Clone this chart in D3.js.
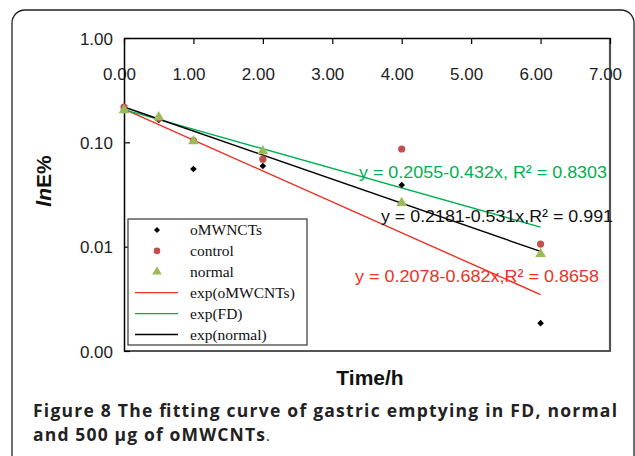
<!DOCTYPE html>
<html>
<head>
<meta charset="utf-8">
<script src="https://cdn.jsdelivr.net/npm/d3@7"></script>
<style>
  body { margin: 0; background: #fff; }
  svg { display: block; }
</style>
</head>
<body>
<div id="root"></div>
<script>
// data
const times = [0, 0.5, 1, 2, 4, 6]
const omwcnts = [0.205, 0.164, 0.0555, 0.0593, 0.039, 0.00185]
const control = [0.218, 0.17, 0.104, 0.069, 0.0863, 0.0106]
const normal = [0.208, 0.178, 0.105, 0.084, 0.0268, 0.0087]

// fitted lines, value at t=0 and at t=6
const fitTimes = [0, 6]
const fitRed = [0.2078, 0.00347]
const fitGreen = [0.2055, 0.0154]
const fitBlack = [0.2181, 0.0090]

const xTicks = [0, 1, 2, 3, 4, 5, 6, 7]
const yTicks = [1, 0.1, 0.01, 0.001]

const legendNames = ["oMWNCTs", "control", "normal", "exp(oMWCNTs)", "exp(FD)", "exp(normal)"]
const equations = [
    "y = 0.2055-0.432x, R² = 0.8303",
    "y = 0.2181-0.531x,R² = 0.991",
    "y = 0.2078-0.682x,R² = 0.8658"
]

const W = 635, H = 456
const plot = {left: 124, top: 38, right: 610, bottom: 351}
const colors = {red: "#ee3124", green: "#00b050", black: "#000",
                marker_red: "#c0504d", marker_green: "#9bbb59"}

const svg = d3.select("#root").append("svg")
    .attr("width", W)
    .attr("height", H)
    .style("font-family", "Liberation Sans, Arial, sans-serif")

// outer rounded frame of the figure
svg.append("rect")
    .attr("x", 12).attr("y", 10)
    .attr("width", 622).attr("height", 480)
    .attr("rx", 13)
    .attr("fill", "none")
    .attr("stroke", "#222")
    .attr("stroke-width", 1.3)

const x = d3.scaleLinear().domain([0, 7]).range([plot.left, plot.right])
const y = d3.scaleLog().domain([0.001, 1]).range([plot.bottom, plot.top])
const fmt = d3.format(".2f")

// plot frame: right and bottom drawn heavier and grey
svg.append("line").attr("x1", plot.right).attr("x2", plot.right)
    .attr("y1", plot.top).attr("y2", plot.bottom + 1)
    .attr("stroke", "#555").attr("stroke-width", 2.2)
svg.append("line").attr("x1", plot.left).attr("x2", plot.right + 1)
    .attr("y1", plot.bottom).attr("y2", plot.bottom)
    .attr("stroke", "#555").attr("stroke-width", 2.2)

// x axis along the top, ticks pointing inside, labels below
const xAxis = svg.append("g")
    .attr("transform", `translate(0,${plot.top})`)
    .call(d3.axisBottom(x).tickValues(xTicks).tickFormat(fmt).tickSize(6).tickSizeOuter(0))
xAxis.select(".domain").attr("stroke", "#000").attr("stroke-width", 1.5)
xAxis.selectAll(".tick line").attr("stroke", "#000").attr("stroke-width", 1.2)
xAxis.selectAll(".tick text")
    .attr("y", 0).attr("dy", 0)
    .attr("transform", "translate(-5,42)")
    .attr("font-size", 17)
    .attr("fill", "#222")
    .attr("font-family", "Liberation Sans, Arial, sans-serif")

// y axis on the left, ticks pointing inside
const yAxis = svg.append("g")
    .attr("transform", `translate(${plot.left},0)`)
    .call(d3.axisRight(y).tickValues(yTicks).tickFormat(fmt).tickSize(6).tickSizeOuter(0))
yAxis.select(".domain").attr("stroke", "#000").attr("stroke-width", 1.5)
yAxis.selectAll(".tick line").attr("stroke", "#000").attr("stroke-width", 1.2)
yAxis.selectAll(".tick text")
    .attr("x", -11).attr("dy", "0.36em")
    .attr("text-anchor", "end")
    .attr("font-size", 17)
    .attr("fill", "#222")
    .attr("font-family", "Liberation Sans, Arial, sans-serif")

// fit lines
const fitLine = d3.line().x(d => x(d[0])).y(d => y(d[1]))
const fits = [[fitRed, colors.red], [fitGreen, colors.green], [fitBlack, colors.black]]
fits.forEach(([vals, c]) => {
    svg.append("path")
        .datum(fitTimes.map((t, i) => [t, vals[i]]))
        .attr("d", fitLine)
        .attr("fill", "none")
        .attr("stroke", c)
        .attr("stroke-width", 1.4)
})

// markers
const diamond = d3.symbol().type(d3.symbolSquare).size(22)
const triangle = d3.symbol().type(d3.symbolTriangle).size(50)

svg.append("g").selectAll("path")
    .data(times.map((t, i) => [t, omwcnts[i]]))
    .join("path")
    .attr("transform", d => `translate(${x(d[0])},${y(d[1])}) rotate(45)`)
    .attr("d", diamond)
    .attr("fill", "#000")

svg.append("g").selectAll("circle")
    .data(times.map((t, i) => [t, control[i]]))
    .join("circle")
    .attr("cx", d => x(d[0]))
    .attr("cy", d => y(d[1]))
    .attr("r", 3.6)
    .attr("fill", colors.marker_red)

svg.append("g").selectAll("path")
    .data(times.map((t, i) => [t, normal[i]]))
    .join("path")
    .attr("transform", d => `translate(${x(d[0])},${y(d[1]) + 1})`)
    .attr("d", triangle)
    .attr("fill", colors.marker_green)

// equation labels
const eqPos = [
    {x: 359, y: 178, len: 248, c: colors.green},
    {x: 381, y: 222, len: 232, c: "#111"},
    {x: 355, y: 282, len: 244, c: colors.red}
]
equations.forEach((txt, i) => {
    svg.append("text")
        .attr("x", eqPos[i].x).attr("y", eqPos[i].y)
        .attr("font-size", 17)
        .attr("fill", eqPos[i].c)
        .attr("textLength", eqPos[i].len)
        .attr("lengthAdjust", "spacingAndGlyphs")
        .text(txt)
})

// legend
const lg = svg.append("g").attr("transform", "translate(128,219)")
lg.append("rect")
    .attr("width", 179).attr("height", 126)
    .attr("fill", "#fff")
    .attr("stroke", "#444")
    .attr("stroke-width", 1.3)
const rowY = i => 11 + i * 20.9
legendNames.forEach((name, i) => {
    const row = lg.append("g").attr("transform", `translate(0,${rowY(i)})`)
    if (i === 0) row.append("path").attr("transform", "translate(29,0) rotate(45)")
        .attr("d", d3.symbol().type(d3.symbolSquare).size(18)).attr("fill", "#000")
    if (i === 1) row.append("circle").attr("cx", 29).attr("r", 3.3).attr("fill", colors.marker_red)
    if (i === 2) row.append("path").attr("transform", "translate(29,0)")
        .attr("d", d3.symbol().type(d3.symbolTriangle).size(40)).attr("fill", colors.marker_green)
    if (i >= 3) row.append("line")
        .attr("x1", 7).attr("x2", 50)
        .attr("stroke", [colors.red, colors.green, colors.black][i - 3])
        .attr("stroke-width", 1.3)
    row.append("text")
        .attr("x", 62).attr("dy", "0.33em")
        .attr("font-family", "Liberation Serif, Times New Roman, serif")
        .attr("font-size", 15.5)
        .attr("fill", "#111")
        .text(name)
})

// axis titles
const ylab = svg.append("text")
    .attr("transform", "translate(51,181) rotate(-90)")
    .attr("text-anchor", "middle")
    .attr("font-size", 21)
    .attr("font-weight", "bold")
    .attr("fill", "#111")
ylab.append("tspan").attr("font-style", "italic").text("ln")
ylab.append("tspan").text("E%")

svg.append("text")
    .attr("x", 370).attr("y", 385)
    .attr("text-anchor", "middle")
    .attr("font-size", 21)
    .attr("font-weight", "bold")
    .attr("fill", "#111")
    .text("Time/h")

// caption
const cap = svg.append("g")
    .style("font-family", "Open Sans, Noto Sans, sans-serif")
    .attr("fill", "#222")
    .attr("font-weight", "bold")
    .attr("font-size", 17.5)
cap.append("text")
    .attr("x", 33).attr("y", 417)
    .attr("textLength", 584)
    .attr("lengthAdjust", "spacing")
    .text("Figure 8 The fitting curve of gastric emptying in FD, normal")
cap.append("text")
    .attr("x", 33).attr("y", 441)
    .attr("textLength", 232)
    .attr("lengthAdjust", "spacing")
    .text("and 500 μg of oMWCNTs")
cap.append("text")
    .attr("x", 266).attr("y", 441)
    .attr("font-weight", "normal")
    .attr("font-size", 14)
    .text(".")
</script>
</body>
</html>
